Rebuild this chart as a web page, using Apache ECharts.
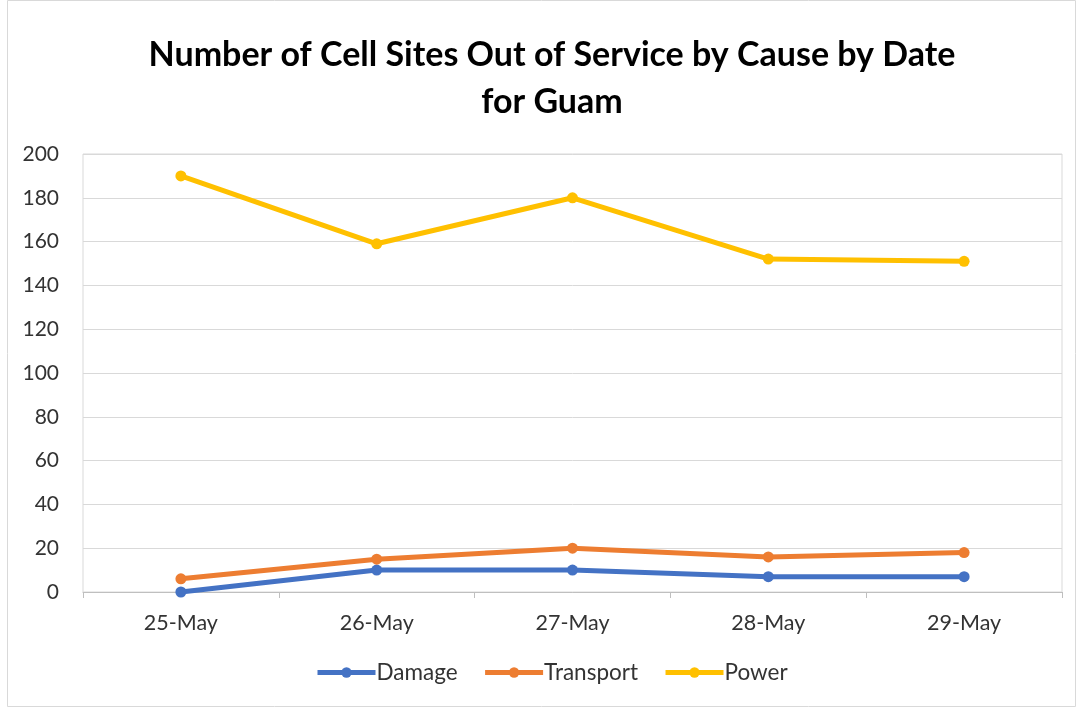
<!DOCTYPE html>
<html><head><meta charset="utf-8">
<script src="https://cdn.jsdelivr.net/npm/echarts@6/dist/echarts.min.js"></script>
<style>html,body{margin:0;padding:0;background:#fff}#c{width:1081px;height:711px}</style>
</head><body><div id="c"></div>
<script>
const categories = ['25-May','26-May','27-May','28-May','29-May'];
const damage = [0,10,10,7,7];
const transport = [6,15,20,16,18];
const power = [190,159,180,152,151];
const yTicks = {min:0, max:200, interval:20};

const chart = echarts.init(document.getElementById('c'));
const font = "Lato, 'Open Sans', sans-serif";
function s(name, data, color){
  return {name, type:'line', data, symbol:'circle', symbolSize:11,
    lineStyle:{width:5,color}, itemStyle:{color}, z:3};
}
chart.setOption({
  animation:false,
  title:{text:'Number of Cell Sites Out of Service by Cause by Date\nfor Guam', left:547, top:27,
    textAlign:'center',
    textStyle:{fontFamily:font, fontWeight:'bold', fontSize:34, color:'#000', lineHeight:47}},
  graphic:[{type:'rect', shape:{x:7.5,y:0.5,width:1068,height:706}, style:{fill:'none',stroke:'#d9d9d9',lineWidth:1}, silent:true}],
  grid:{left:83, right:19, top:154, bottom:119, show:true, borderColor:'#d9d9d9', borderWidth:1},
  legend:{bottom:22, left:310, itemWidth:58, itemHeight:13, itemGap:25,
    lineStyle:{width:5},
    textStyle:{fontFamily:font, fontSize:22.5, color:'#333', padding:[0,0,0,-4]},
    data:['Damage','Transport','Power']},
  xAxis:{type:'category', data:categories, boundaryGap:true,
    axisLine:{lineStyle:{color:'#bfbfbf'}},
    axisTick:{show:true, length:6, lineStyle:{color:'#bfbfbf'}},
    axisLabel:{fontFamily:font, fontSize:21.5, color:'#333', margin:20}},
  yAxis:{type:'value', min:yTicks.min, max:yTicks.max, interval:yTicks.interval,
    axisLine:{show:false}, axisTick:{show:false},
    splitLine:{lineStyle:{color:'#d9d9d9'}},
    axisLabel:{fontFamily:font, fontSize:21, color:'#333', margin:24}},
  series:[s('Damage',damage,'#4472c4'), s('Transport',transport,'#ed7d31'), s('Power',power,'#ffc000')]
});
</script></body></html>
